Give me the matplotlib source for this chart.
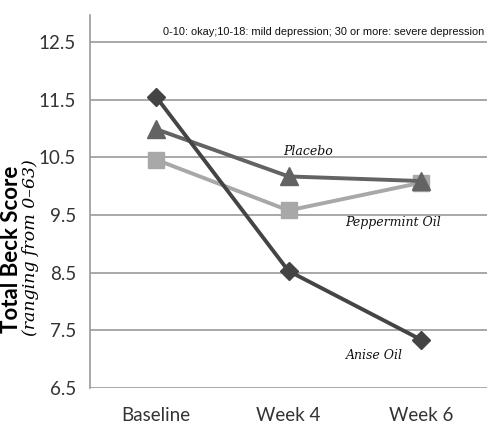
import matplotlib
matplotlib.use("Agg")
import matplotlib.pyplot as plt

# valeurs
periodes = ['Baseline', 'Week 4', 'Week 6']
anise = [11.55, 8.53, 7.34]
placebo = [10.99, 10.17, 10.09]
menthe = [10.46, 9.58, 10.06]
graduations = [6.5, 7.5, 8.5, 9.5, 10.5, 11.5, 12.5]

fig = plt.figure(figsize=(4.9, 4.46), dpi=100)
ax = fig.add_axes([90 / 490, 1 - 388 / 446, 397 / 490, 373 / 446])

x = range(len(periodes))
ax.plot(x, menthe, color='#a8a8a8', lw=2.8, marker='s', ms=11.5, zorder=3)
ax.plot(x, placebo, color='#636363', lw=2.8, marker='^', ms=12.5, zorder=4)
ax.plot(x, anise, color='#444444', lw=2.8, marker='D', ms=9.5, zorder=5)

ax.set_xlim(-0.5, 2.5)
ax.set_ylim(6.5, 12.97)
ax.set_yticks(graduations)
ax.set_yticklabels([f'{g:.1f}' for g in graduations])
ax.set_xticks(list(x))
ax.set_xticklabels(periodes)
ax.grid(axis='y', color='#9a9a9a', lw=1.2)
ax.set_axisbelow(True)
for cote in ['top', 'right', 'bottom']:
    ax.spines[cote].set_visible(False)
ax.spines['left'].set_color('#9a9a9a')
ax.spines['left'].set_linewidth(1.2)
ax.tick_params(length=0, labelsize=13.5, colors='#333333', pad=10)
ax.tick_params(axis='x', pad=14)
for t in ax.get_xticklabels() + ax.get_yticklabels():
    t.set_family('Lato')

# étiquettes des séries
style = dict(fontsize=9, style='italic', family='DejaVu Serif', color='#111111', va='baseline')
ax.text(0.96, 10.55, 'Placebo', **style)
ax.text(1.43, 9.31, 'Peppermint Oil', **style)
ax.text(1.435, 7.0, 'Anise Oil', **style)

ax.text(2.48, 12.67, '0-10: okay;10-18: mild depression; 30 or more: severe depression',
        fontsize=7.9, ha='right', va='center', family='Liberation Sans', color='#111111')

fig.text(12 / 490, 1 - 249 / 446, 'Total Beck Score', rotation=90, ha='center', va='center',
         fontsize=16, fontweight='bold', family='Lato')
fig.text(31 / 490, 1 - 248 / 446, '(ranging from 0–63)', rotation=90, ha='center', va='center',
         fontsize=12.5, style='italic', family='DejaVu Serif')

fig.savefig('out.png', dpi=100)
